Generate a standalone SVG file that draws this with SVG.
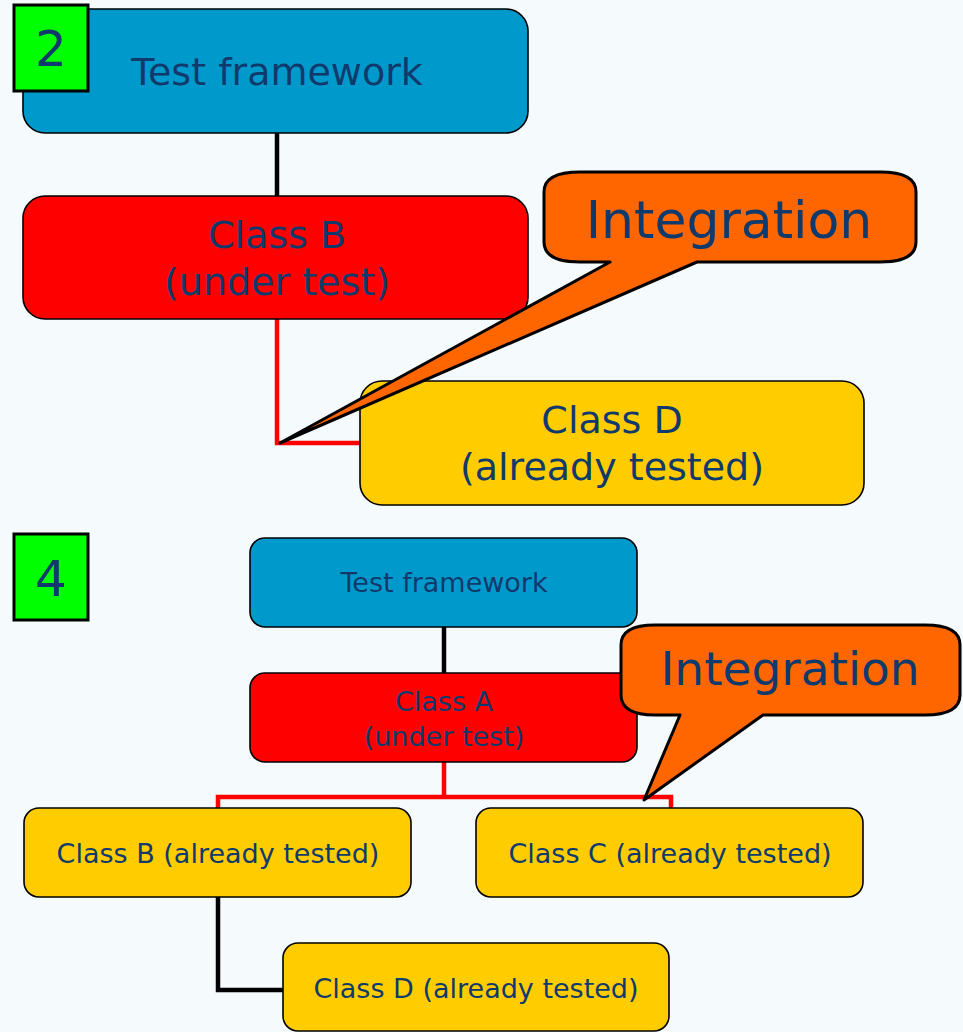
<svg xmlns="http://www.w3.org/2000/svg" width="963" height="1032" viewBox="0 0 963 1032">
<style>
.t{font-family:"DejaVu Sans","Liberation Sans",sans-serif;fill:#103A6B;text-anchor:middle}
.box{stroke:#000;stroke-width:1.6}
.blue{fill:#0099CC}.red{fill:#FF0000}.yel{fill:#FFCC00}
.num{fill:#00FF00;stroke:#000;stroke-width:3}
.call{fill:#FF6600;stroke:#000;stroke-width:3;stroke-linejoin:round}
.cb{fill:none;stroke:#000;stroke-width:4.5}
.cr{fill:none;stroke:#FF0000;stroke-width:4.5}
</style>
<rect width="963" height="1032" fill="#F5FAFD"/>
<g id="connectors">
<path class="cb" d="M277,133V196"/>
<path class="cr" d="M277,319V443H360"/>
<path class="cb" d="M444,627V673"/>
<path class="cr" d="M444,762V797M218,808V797H671V808"/>
<path class="cb" d="M218,897V990H283"/>
</g>
<g id="test-framework-2"><rect class="box blue" x="23" y="9" width="505" height="124" rx="22"/><text class="t" x="277" y="85" font-size="38">Test framework</text></g>
<g id="num-2"><rect class="num" x="14" y="5" width="74" height="86"/><text class="t" x="51" y="66" font-size="50">2</text></g>
<g id="class-b-2"><rect class="box red" x="23" y="196" width="505" height="123" rx="22"/><text class="t" x="277" y="248" font-size="38">Class B</text><text class="t" x="277" y="295" font-size="38">(under test)</text></g>
<g id="class-d-2"><rect class="box yel" x="360" y="381" width="504" height="124" rx="22"/><text class="t" x="612" y="433" font-size="38">Class D</text><text class="t" x="612" y="480" font-size="38">(already tested)</text></g>
<g id="integration-1"><path class="call" d="M544,192Q544,172 580,172L880,172Q916,172 916,192L916,242Q916,262 880,262L697,262L280,443L610,262L580,262Q544,262 544,242Z"/><text class="t" x="729" y="238" font-size="52">Integration</text></g>
<g id="num-4"><rect class="num" x="14" y="534" width="74" height="86"/><text class="t" x="51" y="596" font-size="50">4</text></g>
<g id="test-framework-4"><rect class="box blue" x="250" y="538" width="387" height="89" rx="15"/><text class="t" x="444" y="592" font-size="27">Test framework</text></g>
<g id="class-a-4"><rect class="box red" x="250" y="673" width="387" height="89" rx="15"/><text class="t" x="444" y="711" font-size="27">Class A</text><text class="t" x="444" y="746" font-size="27">(under test)</text></g>
<g id="class-b-4"><rect class="box yel" x="24" y="808" width="387" height="89" rx="15"/><text class="t" x="218" y="863" font-size="27">Class B (already tested)</text></g>
<g id="class-c-4"><rect class="box yel" x="476" y="808" width="387" height="89" rx="15"/><text class="t" x="670" y="863" font-size="27">Class C (already tested)</text></g>
<g id="class-d-4"><rect class="box yel" x="283" y="943" width="386" height="88" rx="15"/><text class="t" x="476" y="998" font-size="27">Class D (already tested)</text></g>
<g id="integration-2"><path class="call" d="M621,645Q621,625 655,625L925,625Q960,625 960,645L960,695Q960,715 925,715L763,715L644,800L680,715L655,715Q621,715 621,695Z"/><text class="t" x="790" y="685" font-size="47">Integration</text></g>
</svg>
